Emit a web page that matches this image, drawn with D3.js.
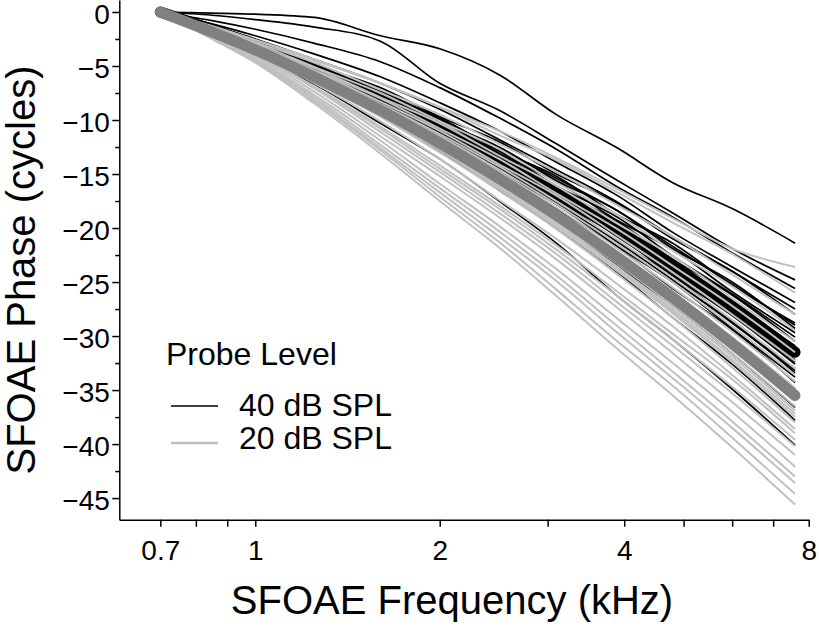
<!DOCTYPE html>
<html><head><meta charset="utf-8">
<script src="https://cdn.jsdelivr.net/npm/d3@7"></script>
<style>
body{margin:0;background:#fff}
svg{display:block}
text{font-family:"Liberation Sans",Arial,Helvetica,sans-serif;fill:#000}
</style></head>
<body><svg id="chart" width="819" height="630"></svg>
<script>
// ---- data ----
const freqKHz = [0.7, 0.85, 1.0, 1.25, 1.6, 2.0, 2.5, 3.1, 3.9, 4.8, 6.0, 7.6];

const mean40 = [0,-1.64,-3.12,-5.36,-8.06,-10.77,-13.67,-16.70,-20.16,-23.47,-27.25,-31.5];
const mean20 = [0,-1.85,-3.51,-6.04,-9.09,-12.14,-15.41,-18.82,-22.72,-26.45,-30.71,-35.5];

const probe40Curves = [
  [0,-0.1,-0.2,-0.5,-2.2,-3.4,-5.8,-9.5,-12.6,-15.8,-18.2,-21.4],
  [0,-0.3,-0.7,-1.4,-2.7,-6.6,-9.1,-12.2,-15.6,-18.6,-21.9,-24.8],
  [0,-0.8,-1.6,-2.9,-4.6,-7.0,-9.8,-12.7,-16.2,-19.0,-22.3,-25.6],
  [0,-1.1,-2.2,-3.9,-6.0,-8.4,-11.0,-13.9,-17.0,-20.4,-23.6,-26.9],
  [0,-1.4,-2.8,-4.9,-7.0,-9.7,-12.0,-15.0,-17.7,-21.0,-24.0,-28.0],
  [0,-1.5,-2.9,-4.8,-7.5,-9.8,-12.8,-15.2,-18.8,-21.4,-25.3,-28.8],
  [0,-1.6,-2.8,-5.0,-7.3,-10.1,-12.5,-15.6,-18.4,-21.9,-25.0,-29.3],
  [0,-1.5,-3.0,-5.2,-7.6,-10.0,-13.1,-15.7,-19.3,-22.0,-25.9,-29.7],
  [0,-1.6,-2.9,-5.1,-7.8,-10.4,-12.9,-16.1,-19.0,-22.6,-26.1,-30.1],
  [0,-1.6,-3.1,-5.3,-7.7,-10.6,-13.1,-16.4,-19.4,-22.9,-26.2,-30.5],
  [0,-1.7,-3.0,-5.2,-8.1,-10.5,-13.6,-16.2,-20.0,-22.9,-27.0,-30.9],
  [0,-1.6,-3.2,-5.4,-7.9,-10.8,-13.4,-16.7,-19.9,-23.4,-26.9,-31.3],
  [0,-1.7,-3.1,-5.3,-8.2,-10.7,-13.8,-16.6,-20.3,-23.4,-27.5,-31.6],
  [0,-1.6,-3.2,-5.5,-8.1,-11.0,-13.7,-17.1,-20.2,-23.9,-27.4,-31.9],
  [0,-1.7,-3.3,-5.4,-8.3,-11.1,-14.0,-16.9,-20.7,-23.8,-27.9,-32.2],
  [0,-1.7,-3.2,-5.6,-8.3,-11.2,-14.1,-17.4,-20.7,-24.4,-28.1,-32.6],
  [0,-1.8,-3.3,-5.5,-8.5,-11.2,-14.4,-17.3,-21.2,-24.4,-28.7,-33.0],
  [0,-1.7,-3.3,-5.7,-8.4,-11.5,-14.4,-17.8,-21.2,-24.9,-28.7,-33.4],
  [0,-1.8,-3.4,-5.7,-8.7,-11.5,-14.8,-17.8,-21.7,-25.0,-29.3,-33.8],
  [0,-1.8,-3.4,-5.9,-8.7,-11.8,-14.8,-18.2,-21.8,-25.6,-29.4,-34.3],
  [0,-1.8,-3.5,-5.9,-9.0,-11.9,-15.3,-18.4,-22.4,-25.9,-30.3,-34.9],
  [0,-1.9,-3.5,-6.1,-9.0,-12.3,-15.4,-19.0,-22.7,-26.6,-30.7,-35.6],
  [0,-1.9,-3.6,-6.2,-9.4,-12.4,-15.9,-19.3,-23.5,-27.2,-31.6,-36.6],
  [0,-2.0,-3.7,-6.5,-9.6,-12.9,-16.5,-20.0,-24.1,-28.3,-32.6,-37.8],
  [0,-2.0,-4.0,-6.7,-10.3,-13.6,-17.5,-21.4,-26.3,-30.3,-34.9,-40.1],
  [0,-1.5,-3.0,-5.3,-8.0,-10.7,-13.5,-16.6,-19.8,-23.2,-26.9,-31.0],
  [0,-1.7,-3.2,-5.5,-8.3,-11.0,-14.1,-17.2,-20.8,-24.2,-28.0,-32.4],
  [0,-1.4,-2.8,-4.8,-7.3,-9.9,-12.7,-15.4,-18.4,-21.7,-25.2,-29.0],
  [0,-1.2,-2.5,-4.4,-6.6,-9.0,-11.8,-14.6,-17.6,-20.8,-24.0,-27.5],
  [0,-1.8,-3.3,-5.6,-8.6,-11.4,-14.4,-17.6,-21.3,-24.8,-28.8,-33.2]
];

const probe20Curves = [
  [0,-1.4,-2.6,-4.4,-6.6,-8.8,-11.0,-13.5,-16.4,-19.1,-21.9,-23.6],
  [0,-1.3,-2.6,-4.5,-6.6,-8.8,-11.4,-13.7,-16.7,-19.5,-22.4,-26.0],
  [0,-1.5,-2.8,-4.7,-7.2,-9.5,-12.2,-14.8,-17.9,-20.8,-24.3,-28.0],
  [0,-1.6,-2.9,-5.1,-7.5,-10.1,-12.7,-15.8,-18.8,-22.1,-25.4,-29.5],
  [0,-1.5,-3.1,-5.2,-7.9,-10.3,-13.3,-16.1,-19.6,-22.6,-26.5,-30.5],
  [0,-1.7,-3.1,-5.4,-8.0,-10.8,-13.6,-16.8,-20.1,-23.5,-27.2,-31.5],
  [0,-1.7,-3.2,-5.5,-8.3,-11.0,-14.1,-17.0,-20.7,-24.1,-28.0,-32.3],
  [0,-1.7,-3.3,-5.6,-8.5,-11.3,-14.3,-17.5,-21.1,-24.6,-28.5,-33.0],
  [0,-1.8,-3.3,-5.7,-8.6,-11.5,-14.6,-17.8,-21.5,-25.0,-29.1,-33.6],
  [0,-1.8,-3.4,-5.8,-8.8,-11.7,-14.8,-18.1,-21.9,-25.5,-29.6,-34.2],
  [0,-1.8,-3.4,-5.9,-8.9,-11.9,-15.1,-18.5,-22.2,-25.9,-30.1,-34.8],
  [0,-1.8,-3.5,-6.0,-9.0,-12.1,-15.3,-18.7,-22.6,-26.3,-30.6,-35.3],
  [0,-1.9,-3.6,-6.1,-9.2,-12.3,-15.6,-19.1,-23.0,-26.8,-31.1,-36.0],
  [0,-1.9,-3.6,-6.2,-9.4,-12.5,-15.8,-19.4,-23.3,-27.2,-31.6,-36.5],
  [0,-1.9,-3.7,-6.3,-9.4,-12.6,-16.0,-19.5,-23.6,-27.5,-31.9,-36.9],
  [0,-2.0,-3.7,-6.4,-9.6,-12.8,-16.3,-19.9,-24.0,-27.9,-32.4,-37.5],
  [0,-2.0,-3.8,-6.5,-9.7,-13.0,-16.5,-20.1,-24.3,-28.3,-32.9,-38.0],
  [0,-2.0,-3.8,-6.6,-10.1,-13.6,-17.4,-21.0,-25.2,-29.1,-33.6,-38.6],
  [0,-2.0,-3.9,-6.9,-10.6,-14.2,-17.9,-21.6,-25.9,-29.8,-34.0,-39.0],
  [0,-2.1,-3.9,-7.0,-10.8,-14.5,-18.2,-22.0,-26.3,-30.3,-34.7,-39.6],
  [0,-2.1,-4.0,-7.1,-11.1,-14.8,-18.6,-22.4,-26.9,-30.9,-35.3,-40.2],
  [0,-2.2,-4.1,-7.4,-11.5,-15.2,-19.0,-22.9,-27.4,-31.6,-36.1,-41.0],
  [0,-2.3,-4.3,-7.7,-11.9,-15.9,-19.8,-23.8,-28.4,-32.5,-37.0,-42.1],
  [0,-2.3,-4.4,-7.9,-12.3,-16.3,-20.3,-24.4,-29.1,-33.3,-37.9,-43.0],
  [0,-2.4,-4.5,-8.1,-12.6,-16.7,-20.8,-24.9,-29.7,-33.9,-38.5,-43.6],
  [0,-2.4,-4.6,-8.3,-12.8,-17.1,-21.3,-25.7,-30.5,-34.6,-39.4,-44.6],
  [0,-2.5,-4.7,-8.5,-13.1,-17.5,-21.8,-26.3,-31.2,-35.5,-40.3,-45.6],
  [0,-1.9,-3.7,-6.3,-9.5,-12.7,-16.2,-19.7,-23.8,-27.7,-32.2,-37.2]
];

const yMajorTicks = [0,-5,-10,-15,-20,-25,-30,-35,-40,-45];
const yMinorTicks = [-2.5,-7.5,-12.5,-17.5,-22.5,-27.5,-32.5,-37.5,-42.5];
const xTickValues = [0.7,0.8,0.9,1,2,3,4,5,6,7,8];
const xTickLabels = {0.7:"0.7",1:"1",2:"2",4:"4",8:"8"};
const legendLabels = ["40 dB SPL","20 dB SPL"];

// ---- drawing ----
const svg = d3.select("#chart");
const x = d3.scaleLog().domain([0.6, 8]).range([119.3, 808.7]);
const y = d3.scaleLinear().domain([1.11, -47]).range([0, 519.7]);

const line = d3.line().x((d,i)=>x(freqKHz[i])).y(d=>y(d)).curve(d3.curveMonotoneX);
const smooth = d3.line().x((d,i)=>x(freqKHz[i])).y(d=>y(d)).curve(d3.curveMonotoneX);

const plot = svg.append("g");
plot.selectAll("path.b40").data(probe40Curves).join("path")
  .attr("class","b40").attr("d",line).attr("fill","none")
  .attr("stroke","#000").attr("stroke-width",1.7).attr("stroke-linejoin","round");
plot.append("path").datum(mean40).attr("d",smooth).attr("fill","none")
  .attr("stroke","#000").attr("stroke-width",11).attr("stroke-linecap","round");
plot.selectAll("path.g20").data(probe20Curves).join("path")
  .attr("class","g20").attr("d",line).attr("fill","none")
  .attr("stroke","#c0c0c0").attr("stroke-width",2).attr("stroke-linejoin","round");
plot.append("path").datum(mean20).attr("d",smooth).attr("fill","none")
  .attr("stroke","#808080").attr("stroke-width",11).attr("stroke-linecap","round");

// axes
const yAxis = svg.append("g").attr("transform","translate(119.3,0)")
  .call(d3.axisLeft(y).tickValues(yMajorTicks).tickSize(7).tickSizeOuter(0).tickPadding(2.5).tickFormat(d3.format("d")));
svg.append("g").attr("transform","translate(119.3,0)")
  .call(d3.axisLeft(y).tickValues(yMinorTicks).tickSize(4).tickSizeOuter(0).tickFormat(""))
  .select(".domain").remove();
const xAxis = svg.append("g").attr("transform","translate(0,519.7)")
  .call(d3.axisBottom(x).tickValues(xTickValues).tickSize(7).tickSizeOuter(0).tickPadding(13)
    .tickFormat(d=>xTickLabels[d]||""));

svg.selectAll(".domain").attr("stroke","#000").attr("stroke-width",1.5);
svg.selectAll(".tick line").attr("stroke","#000").attr("stroke-width",1.5);
[yAxis,xAxis].forEach(g=>g.attr("font-family",null).attr("font-size",null)
  .selectAll("text").style("font-size","28px").attr("fill","#000"));
yAxis.selectAll("text").attr("dy","0.42em");

// titles
svg.append("text").attr("x",452).attr("y",614).attr("text-anchor","middle")
  .style("font-size","40px").text("SFOAE Frequency (kHz)");
svg.append("text").attr("transform","translate(35,270) rotate(-90)").attr("text-anchor","middle")
  .style("font-size","40px").text("SFOAE Phase (cycles)");

// legend
const leg = svg.append("g");
leg.append("text").attr("x",166).attr("y",365).style("font-size","32px").text("Probe Level");
const legColors = ["#000","#c0c0c0"], legW = [1.6,2.5], legY = [406,443], legTY=[416,449];
legendLabels.forEach((lab,i)=>{
  leg.append("line").attr("x1",171).attr("x2",218).attr("y1",legY[i]).attr("y2",legY[i])
    .attr("stroke",legColors[i]).attr("stroke-width",legW[i]);
  leg.append("text").attr("x",239).attr("y",legTY[i]).style("font-size","32px").text(lab);
});
</script></body></html>
